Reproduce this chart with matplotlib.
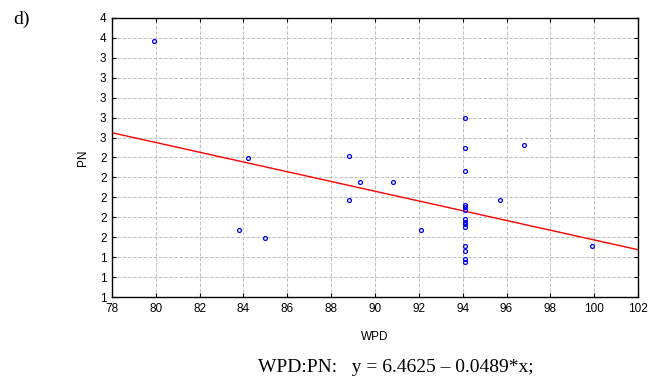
import matplotlib
matplotlib.use("Agg")
import matplotlib.pyplot as plt
import numpy as np
from matplotlib.ticker import FormatStrFormatter, MultipleLocator

wpd = [79.9, 84.2, 88.8, 89.3, 90.8, 88.8, 83.8, 85.0, 92.1,
       94.1, 94.1, 94.1, 94.1, 94.1, 94.1, 94.1, 94.1, 94.1, 94.1, 94.1, 94.1, 94.1, 94.1,
       96.8, 95.7, 99.9]
pn = [3.57, 2.40, 2.42, 2.15, 2.15, 1.97, 1.67, 1.59, 1.67,
      2.80, 2.50, 2.26, 1.92, 1.90, 1.87, 1.78, 1.75, 1.73, 1.70, 1.51, 1.46, 1.38, 1.35,
      2.53, 1.97, 1.51]
intercept = 6.4625
slope = -0.0489
x_range = [78, 102]
y_range = [1.0, 3.8]

plt.rcParams['font.family'] = ['Liberation Sans', 'DejaVu Sans']
fig = plt.figure(figsize=(6.62, 3.8), dpi=100)
ax = fig.add_axes([112/662, 1-297/380, 526/662, 279/380])

xl = np.array(x_range)
ax.plot(xl, intercept + slope*xl, color='red', lw=1.0, zorder=2)
ax.plot(wpd, pn, 'o', mfc='none', mec='blue', ms=2.8, mew=0.9, zorder=3)

ax.set_xlim(*x_range)
ax.set_ylim(*y_range)
ax.xaxis.set_major_locator(MultipleLocator(2))
ax.yaxis.set_major_locator(MultipleLocator(0.2))
ax.yaxis.set_major_formatter(FormatStrFormatter('%.0f'))
ax.tick_params(direction='in', top=True, right=True, labelsize=8.5, length=3, width=0.8, pad=4)
ax.grid(True, ls='--', color='#c0c0c0', lw=0.7)
for s in ax.spines.values():
    s.set_linewidth(1.0)
ax.set_xlabel('WPD', fontsize=8.5, labelpad=12)
ax.set_ylabel('PN', fontsize=8.5, labelpad=8)

fig.text(258/662, 1-372/380, 'WPD:PN:   y = 6.4625 – 0.0489*x;', family=['Liberation Serif', 'DejaVu Serif'],
         fontsize=14, ha='left', va='baseline')
fig.text(13/662, 1-24/380, 'd)', family=['Liberation Serif', 'DejaVu Serif'], fontsize=14, ha='left', va='baseline')

fig.savefig('out.png', dpi=100)
